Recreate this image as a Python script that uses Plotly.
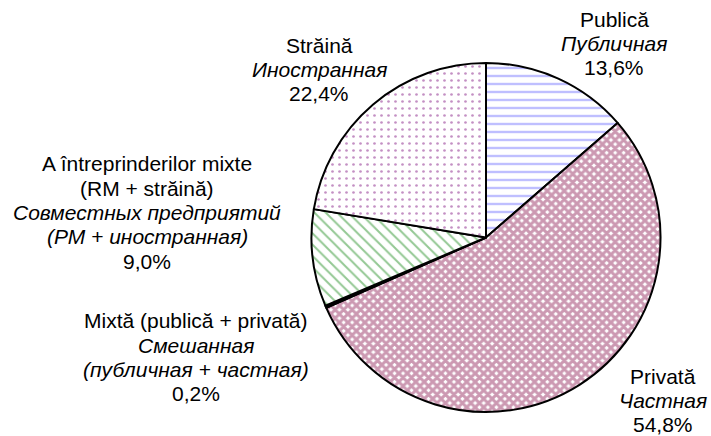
import plotly.graph_objects as go

# ---- data ----
labels_ro = ["Publică", "Privată", "Mixtă (publică + privată)",
             "A întreprinderilor mixte<br>(RM + străină)", "Străină"]
labels_ru = ["Публичная", "Частная", "Смешанная<br>(публичная + частная)",
             "Совместных предприятий<br>(РМ + иностранная)", "Иностранная"]
values = [13.6, 54.8, 0.2, 9.0, 22.4]

# ---- styles ----
fg_colors = ["#7f7fff", "#993366", "#000000", "#2a922a", "#882288"]
bg_colors = ["white", "white", "black", "white", "white"]
shapes = ["-", "x", "", "\\", "."]
sizes = [8, 6, 8, 8, 7]
solid = [0.3, 0.75, 1.0, 0.25, 0.12]

W, H = 711, 436
cx, cy, r = 486, 237.5, 174.5

fig = go.Figure(go.Pie(
    labels=[l.replace("<br>", " ") for l in labels_ro],
    values=values,
    sort=False,
    direction="clockwise",
    rotation=0,
    textinfo="none",
    hoverinfo="label+value",
    showlegend=False,
    marker=dict(
        colors=bg_colors,
        line=dict(color="black", width=2),
        pattern=dict(shape=shapes, fgcolor=fg_colors, bgcolor=bg_colors,
                     size=sizes, solidity=solid, fillmode="overlay"),
    ),
    domain=dict(x=[(cx - r) / W, (cx + r) / W],
                y=[1 - (cy + r) / H, 1 - (cy - r) / H]),
))

# label block positions (px): x center, first line center y
label_pos = [(614, 19), (663, 376), (195.5, 320.7), (147, 164), (319, 45)]
pitch = 24.3
font = dict(family="Liberation Sans, Arial, sans-serif", size=21, color="black")

annotations = []
for i, (ro, ru, v) in enumerate(zip(labels_ro, labels_ru, values)):
    lines = ro.split("<br>") + ["<i>" + s + "</i>" for s in ru.split("<br>")] + [f"{v:.1f}".replace(".", ",") + "%"]
    x0, y0 = label_pos[i]
    for k, line in enumerate(lines):
        annotations.append(dict(
            x=x0 / W, y=1 - (y0 + k * pitch) / H, xref="paper", yref="paper",
            text=line, showarrow=False, xanchor="center", yanchor="middle",
            font=font, borderpad=0,
        ))

fig.update_layout(
    width=W, height=H,
    margin=dict(l=0, r=0, t=0, b=0),
    paper_bgcolor="white", plot_bgcolor="white",
    annotations=annotations,
)

fig.write_html("out.html", config={"displayModeBar": False},
               post_script="document.body.style.margin='0';")
